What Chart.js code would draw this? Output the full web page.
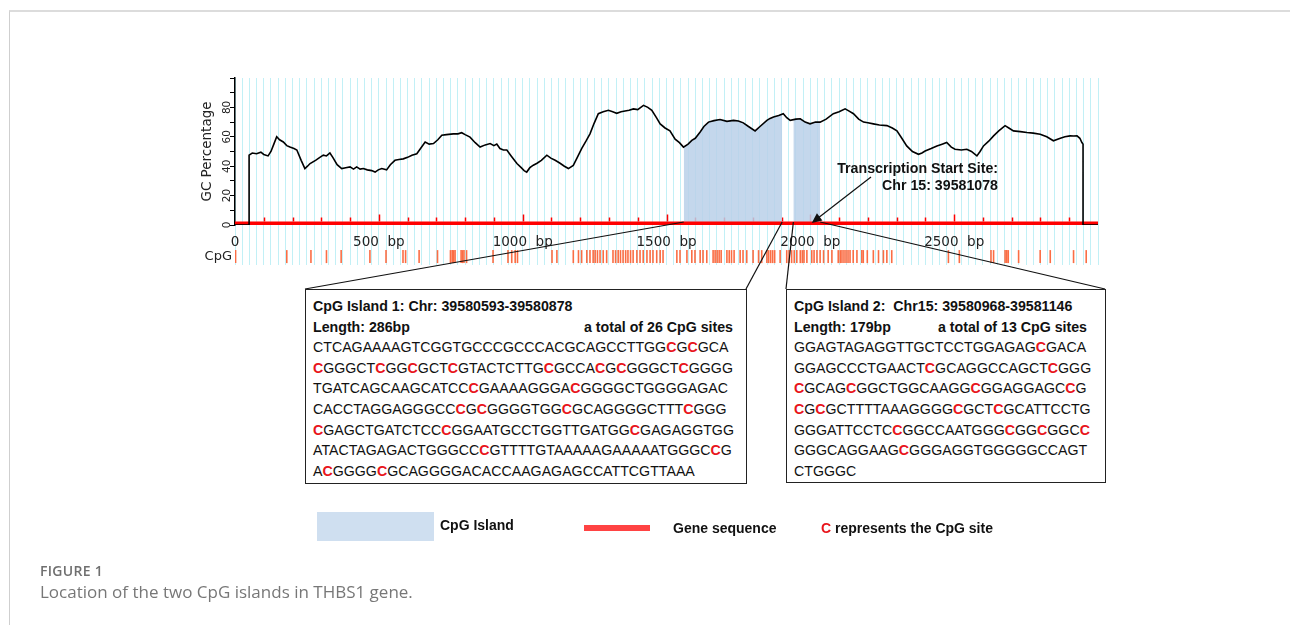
<!DOCTYPE html>
<html>
<head>
<meta charset="utf-8">
<title>CpG islands in THBS1</title>
<script src="https://cdn.jsdelivr.net/npm/chart.js@4.4.1/dist/chart.umd.min.js"></script>
<style>
  html, body { margin: 0; padding: 0; background: #fff; overflow: hidden; }
  #page { position: relative; width: 1290px; height: 625px; overflow: hidden; font-family: "Liberation Sans", Arial, sans-serif; color: #111; }
  #frame { position: absolute; left: 9px; top: 10px; right: -10px; bottom: -10px; border-top: 2px solid #dcdcdc; border-left: 1px solid #cfcfcf; }
  #gcChart { position: absolute; left: 0; top: 0; }
  .seqbox { position: absolute; top: 289px; box-sizing: border-box; border: 1px solid #222; background: #fff;
            padding: 6px 13px 0 7px; font-size: 14.2px; line-height: 20.6px; white-space: nowrap; }
  #box1 { left: 305px; width: 442px; height: 195px; }
  #box2 { left: 786px; width: 320px; height: 194px; padding-right: 18px; }
  .seqbox .head { font-weight: bold; }
  .seqbox .row { display: flex; justify-content: space-between; }
  .c { color: #e8141b; font-weight: bold; }
  #tss { position: absolute; right: 292px; top: 160px; text-align: right; font-weight: bold; font-size: 14.2px; line-height: 17px; }
  .legend { position: absolute; font-weight: bold; font-size: 14px; line-height: 16px; white-space: nowrap; }
  #swatch { position: absolute; left: 317px; top: 512px; width: 117px; height: 29px; background: #cfdff0; }
  #geneKey { position: absolute; left: 584px; top: 525px; width: 66px; height: 6px; background: #ff4343; }
  #figLabel { position: absolute; left: 40px; top: 561px; font-family: "Open Sans", sans-serif; font-weight: 600; font-size: 14px; color: #6f6f6f; letter-spacing: 0.3px; }
  #figCaption { position: absolute; left: 40px; top: 580px; font-family: "Open Sans", sans-serif; font-size: 17px; color: #777; }
</style>
</head>
<body>
<div id="page">
  <div id="frame"></div>
  <canvas id="gcChart" width="1290" height="625"></canvas>

  <div id="tss">Transcription Start Site:<br>Chr 15: 39581078</div>

  <div class="seqbox" id="box1">
    <div class="head">CpG Island 1: Chr: 39580593-39580878</div>
    <div class="head row"><span>Length: 286bp</span><span>a total of 26 CpG sites</span></div>
    <div>CTCAGAAAAGTCGGTGCCCGCCCACGCAGCCTTGG<span class="c">C</span>G<span class="c">C</span>GCA</div>
    <div><span class="c">C</span>GGGCT<span class="c">C</span>GG<span class="c">C</span>GCT<span class="c">C</span>GTACTCTTG<span class="c">C</span>GCCA<span class="c">C</span>G<span class="c">C</span>GGGCT<span class="c">C</span>GGGG</div>
    <div>TGATCAGCAAGCATCC<span class="c">C</span>GAAAAGGGA<span class="c">C</span>GGGGCTGGGGAGAC</div>
    <div>CACCTAGGAGGGCC<span class="c">C</span>G<span class="c">C</span>GGGGTGG<span class="c">C</span>GCAGGGGCTTT<span class="c">C</span>GGG</div>
    <div><span class="c">C</span>GAGCTGATCTCC<span class="c">C</span>GGAATGCCTGGTTGATGG<span class="c">C</span>GAGAGGTGG</div>
    <div>ATACTAGAGACTGGGCC<span class="c">C</span>GTTTTGTAAAAAGAAAAATGGGC<span class="c">C</span>G</div>
    <div>A<span class="c">C</span>GGGG<span class="c">C</span>GCAGGGGACACCAAGAGAGCCATTCGTTAAA</div>
  </div>

  <div class="seqbox" id="box2">
    <div class="head">CpG Island 2:&nbsp; Chr15: 39580968-39581146</div>
    <div class="head row"><span>Length: 179bp</span><span>a total of 13 CpG sites</span></div>
    <div>GGAGTAGAGGTTGCTCCTGGAGAG<span class="c">C</span>GACA</div>
    <div>GGAGCCCTGAACT<span class="c">C</span>GCAGGCCAGCT<span class="c">C</span>GGG</div>
    <div><span class="c">C</span>GCAG<span class="c">C</span>GGCTGGCAAGG<span class="c">C</span>GGAGGAGC<span class="c">C</span>G</div>
    <div><span class="c">C</span>G<span class="c">C</span>GCTTTTAAAGGGG<span class="c">C</span>GCT<span class="c">C</span>GCATTCCTG</div>
    <div>GGGATTCCTC<span class="c">C</span>GGCCAATGGG<span class="c">C</span>GG<span class="c">C</span>GGC<span class="c">C</span></div>
    <div>GGGCAGGAAG<span class="c">C</span>GGGAGGTGGGGGCCAGT</div>
    <div>CTGGGC</div>
  </div>

  <div id="swatch"></div>
  <div class="legend" style="left:440px; top:517px;">CpG Island</div>
  <div id="geneKey"></div>
  <div class="legend" style="left:673px; top:520px;">Gene sequence</div>
  <div class="legend" style="left:821px; top:520px;"><span class="c">C</span> represents the CpG site</div>

  <div id="figLabel">FIGURE 1</div>
  <div id="figCaption">Location of the two CpG islands in THBS1 gene.</div>
</div>

<script>
// GC percentage along the region, [position in bp, GC %]
const gcPoints = [
  [0, 0], [49, 0], [49, 47.5], [60, 49], [75, 48.5], [90, 49.5], [100, 48], [115, 47], [125, 50],
  [135, 55], [145, 60], [155, 58], [168, 56.5], [180, 54], [191, 53], [205, 52], [215, 51], [230, 44],
  [243, 38.4], [252, 40], [261, 41.8], [280, 44], [295, 46], [307, 47.5], [318, 47], [330, 49],
  [340, 46], [355, 41], [371, 38.4], [385, 39], [400, 39.5], [412, 38], [423, 39.5], [435, 38],
  [446, 38.4], [460, 37.5], [475, 37], [487, 36], [498, 37.5], [510, 38.4], [527, 37.5], [540, 41],
  [556, 44], [570, 44.5], [585, 45], [600, 46], [615, 47.5], [632, 48.5], [645, 52], [661, 56.5],
  [675, 55], [690, 55.4], [705, 58], [719, 61], [735, 61.5], [759, 62], [775, 62], [788, 62.8],
  [800, 61.5], [817, 59.8], [835, 56], [852, 53], [870, 54.5], [887, 55.4], [900, 54], [910, 55],
  [921, 52], [933, 51], [945, 51], [960, 47], [980, 41.8], [995, 39], [1005, 37], [1014, 36],
  [1025, 39], [1037, 40.7], [1050, 42], [1065, 44], [1084, 47.5], [1098, 45.5], [1113, 44],
  [1130, 42], [1145, 40], [1159, 38.4], [1176, 40.5], [1190, 46], [1205, 52], [1220, 57], [1234, 62],
  [1248, 69], [1263, 75.7], [1280, 77], [1298, 78], [1313, 77], [1327, 76], [1342, 77], [1356, 77.5],
  [1370, 78], [1385, 79], [1400, 78.5], [1420, 81.4], [1435, 80], [1449, 78], [1465, 73], [1478, 68.8],
  [1495, 66], [1512, 64], [1530, 58.4], [1545, 56], [1559, 53], [1575, 55], [1588, 57.6], [1600, 59],
  [1617, 63.3], [1630, 67], [1646, 70], [1665, 71], [1686, 71.8], [1710, 70.5], [1733, 71.2],
  [1750, 70.8], [1767, 69.5], [1785, 67], [1808, 64], [1825, 67], [1849, 71.2], [1860, 72.5],
  [1872, 73.5], [1890, 74.5], [1906, 75.7], [1918, 73], [1930, 71.2], [1950, 72], [1965, 72.3],
  [1982, 70], [1999, 68.8], [2018, 70], [2034, 70], [2055, 72], [2080, 75.7], [2100, 77], [2121, 79],
  [2135, 77.5], [2150, 75.7], [2168, 72], [2185, 70], [2200, 69.5], [2219, 68.8], [2240, 68],
  [2266, 67.6], [2285, 66], [2301, 64], [2318, 59], [2335, 53.8], [2355, 50], [2376, 48.1], [2388, 49],
  [2399, 50.3], [2420, 52], [2440, 53.8], [2458, 55], [2474, 56.1], [2490, 53], [2503, 51.5],
  [2525, 51], [2544, 51.5], [2560, 50], [2579, 47], [2590, 50], [2602, 53.8], [2620, 57], [2637, 60.6],
  [2655, 64], [2677, 67.6], [2690, 66], [2706, 64], [2730, 63.5], [2753, 62.9], [2775, 62.5],
  [2799, 61.8], [2822, 60], [2845, 57.3], [2869, 59], [2885, 60], [2903, 60.6], [2915, 60.5],
  [2927, 60.6], [2937, 59], [2944, 56.1], [2948, 55], [2948, 0], [3000, 0]
];

// CpG dinucleotide positions (bp)
const cpgSites = [
  2, 180, 264, 318, 369, 469, 525, 584, 593, 640, 704, 749, 755, 760, 765, 786, 791, 796, 805,
  897, 949, 962, 974, 982, 1102, 1119, 1176, 1194, 1205, 1223, 1234, 1245, 1252, 1260, 1269, 1280,
  1292, 1314, 1323, 1332, 1340, 1349, 1358, 1366, 1375, 1384, 1397, 1408, 1419, 1432, 1443, 1453,
  1466, 1478, 1488, 1536, 1547, 1571, 1588, 1599, 1617, 1627, 1640, 1662, 1669, 1676, 1683, 1690,
  1710, 1718, 1726, 1735, 1756, 1766, 1779, 1801, 1820, 1831, 1849, 1855, 1862, 1869, 1876, 1895,
  1918, 1926, 1935, 1944, 1953, 1965, 1972, 1978, 1988, 2005, 2013, 2023, 2034, 2046, 2062, 2075,
  2097, 2104, 2110, 2117, 2124, 2131, 2138, 2149, 2162, 2179, 2184, 2198, 2219, 2237, 2254, 2266,
  2283, 2480, 2518, 2628, 2637, 2677, 2683, 2688, 2724, 2799, 2834, 2915, 2959
];

const islandRanges = [[1560, 1902], [1941, 2034]];
const tssPosition = 2005;
const seqLength = 3000;
const bpLabels = [0, 500, 1000, 1500, 2000, 2500];
const gcLabels = [0, 20, 40, 60, 80];

const cpgRow = 0.21;          // vertical slot of the CpG strip on its own axis
const arrowTail = [871, 177]; // where the TSS arrow leaves its caption

Chart.defaults.font.family = '"DejaVu Sans", Verdana, sans-serif';

// linear read-off of the GC curve, used to close the island fills at their edges
function gcAt(bp) {
  for (let i = 1; i < gcPoints.length; i++) {
    const [x0, y0] = gcPoints[i - 1];
    const [x1, y1] = gcPoints[i];
    if (bp >= x0 && bp <= x1 && x1 > x0) return y0 + (y1 - y0) * (bp - x0) / (x1 - x0);
  }
  return 0;
}

function islandData([from, to]) {
  const inner = gcPoints.filter(p => p[0] > from && p[0] < to).map(([x, y]) => ({x, y}));
  return [{x: from, y: gcAt(from)}, ...inner, {x: to, y: gcAt(to)}];
}

// bp ruler ticks on the gene bar, island connectors and the TSS arrow
const mapOverlay = {
  id: 'mapOverlay',
  beforeDatasetsDraw(chart) {
    const {ctx, scales: {x, y}} = chart;
    const top = y.getPixelForValue(0) - 3.5;
    ctx.save();
    ctx.strokeStyle = '#ff0000';
    ctx.lineWidth = 1.5;
    for (let bp = 100; bp < seqLength; bp += 100) {
      const px = Math.round(x.getPixelForValue(bp)) + 0.5;
      ctx.beginPath();
      ctx.moveTo(px, top);
      ctx.lineTo(px, top - (bp % 500 === 0 ? 7 : 4));
      ctx.stroke();
    }
    ctx.restore();
  },
  afterDraw(chart) {
    const {ctx, scales: {x, y}} = chart;
    const y0 = y.getPixelForValue(0) - 3;
    const b1 = document.getElementById('box1').getBoundingClientRect();
    const b2 = document.getElementById('box2').getBoundingClientRect();
    const links = [
      [islandRanges[0][0], b1.left, b1.top],
      [islandRanges[0][1], b1.right - 1, b1.top],
      [islandRanges[1][0], b2.left, b2.top],
      [islandRanges[1][1], b2.right - 1, b2.top]
    ];
    ctx.save();
    ctx.strokeStyle = '#111';
    ctx.lineWidth = 1.2;
    links.forEach(([bp, ex, ey]) => {
      ctx.beginPath();
      ctx.moveTo(x.getPixelForValue(bp), y0);
      ctx.lineTo(ex, ey);
      ctx.stroke();
    });

    // arrow to the transcription start site
    const tipX = x.getPixelForValue(tssPosition);
    const tipY = y0 + 1;
    const ang = Math.atan2(tipY - arrowTail[1], tipX - arrowTail[0]);
    ctx.beginPath();
    ctx.moveTo(arrowTail[0], arrowTail[1]);
    ctx.lineTo(tipX - Math.cos(ang) * 6, tipY - Math.sin(ang) * 6);
    ctx.stroke();
    ctx.fillStyle = '#111';
    ctx.beginPath();
    ctx.moveTo(tipX, tipY);
    ctx.lineTo(tipX - Math.cos(ang) * 10 + Math.sin(ang) * 4.5, tipY - Math.sin(ang) * 10 - Math.cos(ang) * 4.5);
    ctx.lineTo(tipX - Math.cos(ang) * 10 - Math.sin(ang) * 4.5, tipY - Math.sin(ang) * 10 + Math.cos(ang) * 4.5);
    ctx.closePath();
    ctx.fill();
    ctx.restore();
  }
};

const islandSets = islandRanges.map((range, i) => ({
  label: 'CpG Island ' + (i + 1),
  yAxisID: 'y',
  data: islandData(range),
  borderWidth: 0,
  pointRadius: 0,
  fill: 'origin',
  backgroundColor: 'rgba(186, 208, 233, 0.85)',
  order: 4
}));

new Chart(document.getElementById('gcChart'), {
  type: 'line',
  data: {
    datasets: [
      {
        label: 'GC Percentage',
        yAxisID: 'y',
        data: gcPoints.map(([x, y]) => ({x, y})),
        borderColor: '#000',
        borderWidth: 1.6,
        pointRadius: 0,
        tension: 0,
        order: 1
      },
      {
        label: 'Gene sequence',
        yAxisID: 'y',
        data: [{x: 0, y: 0}, {x: seqLength, y: 0}],
        borderColor: '#ff0000',
        borderWidth: 7,
        borderCapStyle: 'butt',
        pointRadius: 0,
        order: 2
      },
      {
        label: 'CpG',
        type: 'scatter',
        yAxisID: 'yCpg',
        data: cpgSites.map(bp => ({x: bp, y: cpgRow})),
        pointStyle: 'line',
        pointRotation: 90,
        pointRadius: 6.5,
        pointBorderColor: '#fb6d44',
        pointBorderWidth: 1.6,
        order: 3
      },
      ...islandSets
    ]
  },
  options: {
    responsive: false,
    animation: false,
    events: [],
    layout: { padding: { left: 195, top: 78, right: 192, bottom: 360 } },
    plugins: {
      legend: { display: false },
      tooltip: { enabled: false }
    },
    scales: {
      // the CpG strip sits below the GC panel in the same left-hand stack
      yCpg: {
        type: 'linear',
        position: 'left',
        stack: 'map',
        stackWeight: 40,
        min: 0,
        max: 1,
        afterFit: s => { s.width = 40; },
        afterBuildTicks: s => { s.ticks = [{ value: cpgRow }]; },
        border: { display: false },
        grid: { display: false, drawTicks: false },
        ticks: { padding: 3, color: '#222', font: { size: 13 }, callback: () => 'CpG' }
      },
      y: {
        type: 'linear',
        position: 'left',
        stack: 'map',
        stackWeight: 147,
        min: 0,
        max: 100,
        afterFit: s => { s.width = 40; },
        border: { display: true, color: '#000', width: 1.5 },
        grid: { drawOnChartArea: false, tickLength: 5, color: '#000' },
        ticks: {
          stepSize: 10,
          autoSkip: false,
          minRotation: 90,
          maxRotation: 90,
          crossAlign: 'center',
          padding: -4,
          color: '#222',
          font: { size: 10.5 },
          callback: v => gcLabels.includes(v) ? String(v) : ''
        },
        title: {
          display: true,
          text: 'GC Percentage',
          color: '#222',
          font: { size: 13.5 },
          padding: { top: 4, bottom: 0 }
        }
      },
      x: {
        type: 'linear',
        min: 0,
        max: seqLength,
        position: { y: 0 },
        border: { display: false },
        grid: { color: '#c2f0f6', lineWidth: 1, drawTicks: false },
        ticks: {
          stepSize: 25,
          maxTicksLimit: 200,
          autoSkip: false,
          maxRotation: 0,
          padding: 9,
          color: '#222',
          font: { size: 13.5 },
          callback: v => bpLabels.includes(v) ? (v === 0 ? '0' : v + '  bp') : ''
        }
      }
    }
  },
  plugins: [mapOverlay]
});
</script>
</body>
</html>
